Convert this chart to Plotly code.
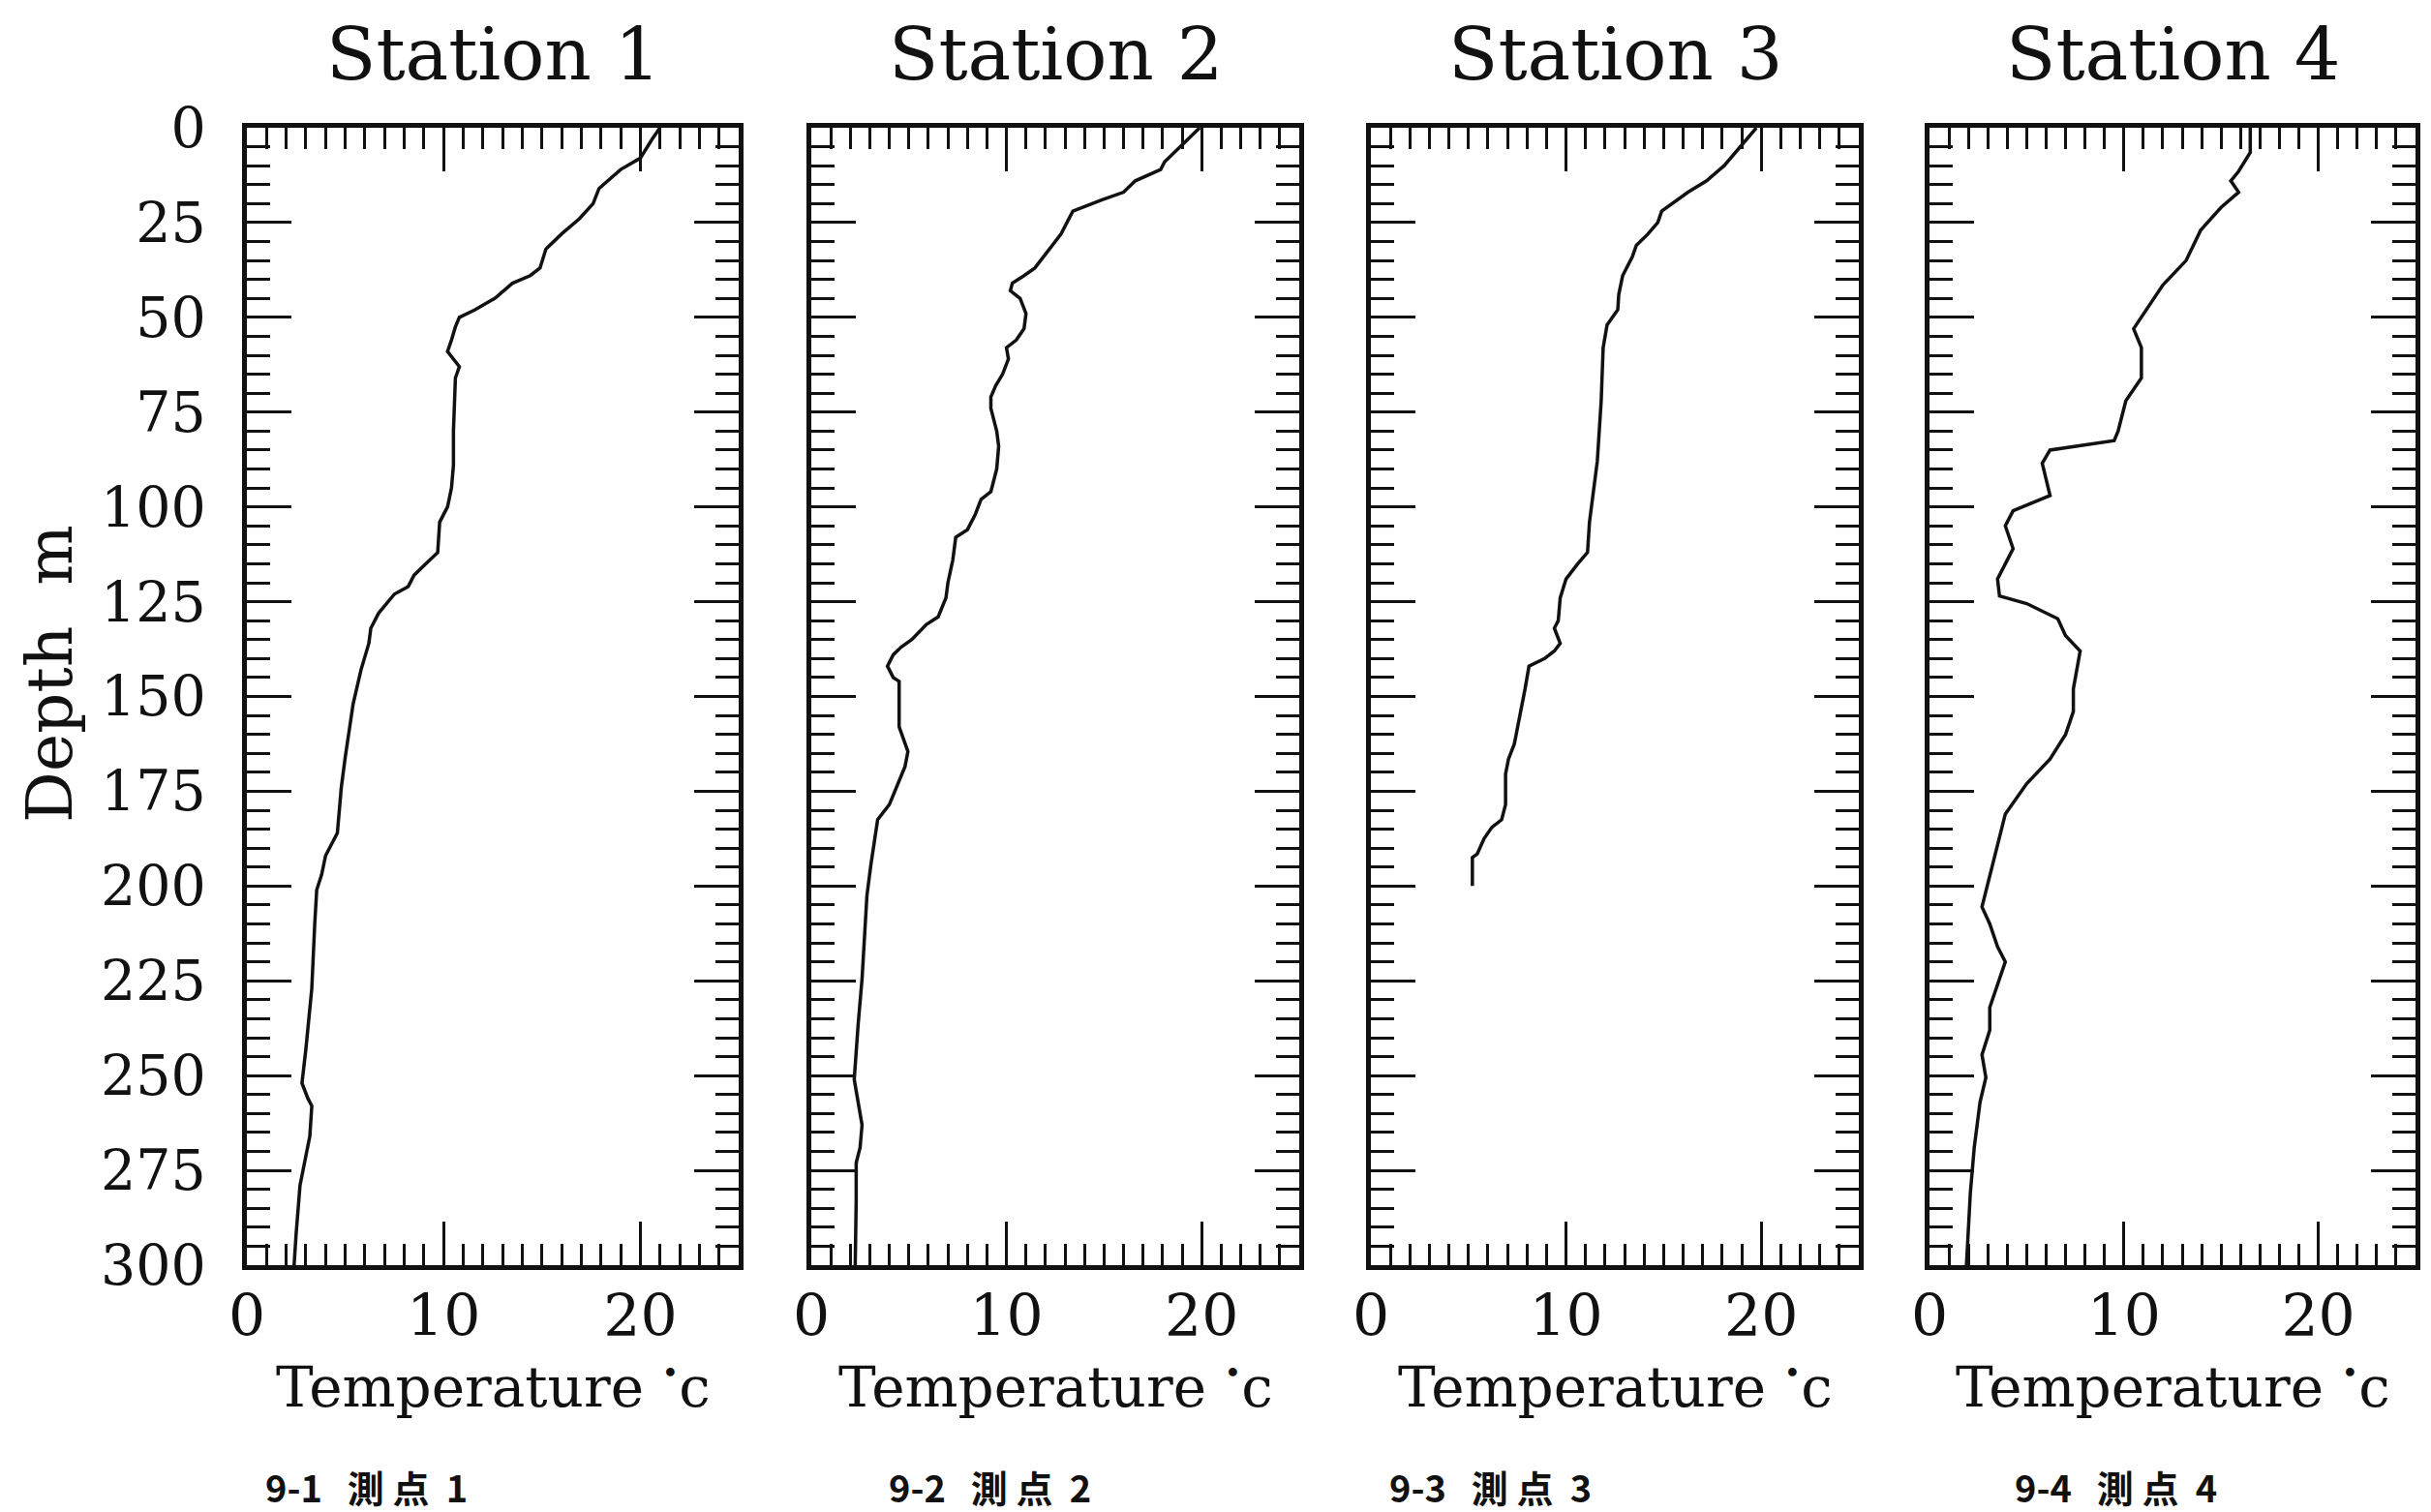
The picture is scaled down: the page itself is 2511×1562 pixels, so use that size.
import plotly.graph_objects as go

# Canvas size in pixels
W, H = 2511, 1562

# Panel titles and captions
station_names = ["Station 1", "Station 2", "Station 3", "Station 4"]
caption_parts = [("9-1", "測", "点", "1"), ("9-2", "測", "点", "2"),
                 ("9-3", "測", "点", "3"), ("9-4", "測", "点", "4")]

# Axis ticks
temp_ticks = [0, 10, 20]
depth_ticks = [0, 25, 50, 75, 100, 125, 150, 175, 200, 225, 250, 275, 300]

# Temperature profiles (depth in m, temperature in deg C)
depth_1 = [0, 3, 8, 11, 16, 20, 24, 28, 32, 37, 39, 41, 45, 48, 50, 52.5, 56, 59, 63, 66,
           80, 89, 95, 100, 104, 112, 116, 118, 121, 123, 128, 132, 136, 143, 152, 160,
           166, 174, 186, 189, 192, 197, 201, 210, 227, 243, 252, 256, 258, 266, 274,
           279, 292, 300]
temp_1 = [21.0, 20.6, 20.0, 19.0, 17.9, 17.6, 16.9, 16.0, 15.2, 14.9, 14.4, 13.5, 12.6,
          11.6, 10.8, 10.6, 10.4, 10.2, 10.8, 10.6, 10.5, 10.5, 10.4, 10.2, 9.8, 9.7, 8.9,
          8.5, 8.2, 7.5, 6.7, 6.3, 6.2, 5.8, 5.4, 5.15, 5.0, 4.8, 4.6, 4.3, 4.0, 3.8, 3.55,
          3.45, 3.3, 3.0, 2.8, 3.1, 3.3, 3.2, 2.9, 2.7, 2.5, 2.4]

depth_2 = [0, 4, 9, 11, 14, 17, 19, 22, 24, 28, 32, 37, 39, 41, 43, 45, 49, 53, 56, 58,
           61, 65, 68, 71, 74, 80, 84, 90, 96, 98, 102, 106, 108, 114, 120, 124, 129, 131,
           135, 137, 139, 142, 145, 146, 158, 161, 164.5, 168.5, 173.5, 178.5, 182.5,
           187.5, 194.5, 202.5, 212.5, 224.5, 236.5, 248.5, 251, 257, 263, 269, 273, 283,
           300]
temp_2 = [19.9, 19.1, 18.1, 17.9, 16.6, 16.0, 14.9, 13.4, 13.2, 12.8, 12.2, 11.45, 10.9,
          10.3, 10.2, 10.7, 11.0, 10.9, 10.5, 10.0, 10.1, 9.8, 9.45, 9.2, 9.2, 9.5, 9.6,
          9.5, 9.2, 8.7, 8.4, 8.0, 7.4, 7.25, 7.0, 6.9, 6.5, 5.9, 5.15, 4.6, 4.2, 3.9, 4.2,
          4.5, 4.5, 4.7, 4.95, 4.8, 4.4, 4.0, 3.4, 3.25, 3.05, 2.85, 2.75, 2.6, 2.4, 2.2,
          2.2, 2.4, 2.6, 2.5, 2.3, 2.3, 2.25]

depth_3 = [0, 4, 10, 14, 17, 22, 25, 28, 31, 34, 39, 44, 48, 52, 58, 72, 88, 96, 104, 112,
           115, 119, 124, 130, 132, 136, 138, 140, 142, 148, 156, 162.5, 166.5, 170.5,
           178.5, 182.5, 184.5, 187.5, 191.5, 192.5, 200]
temp_3 = [19.75, 19.1, 18.1, 17.2, 16.25, 14.9, 14.7, 14.2, 13.6, 13.4, 12.9, 12.7, 12.65,
          12.1, 11.9, 11.8, 11.6, 11.4, 11.2, 11.1, 10.6, 10.0, 9.7, 9.6, 9.4, 9.7, 9.4,
          8.9, 8.1, 7.9, 7.6, 7.35, 7.05, 6.9, 6.9, 6.7, 6.2, 5.8, 5.45, 5.2, 5.2]

depth_4 = [0, 6.5, 11.5, 14, 17, 21, 27, 35, 41.5, 47.5, 53, 58, 66, 72, 80, 82.5, 85,
           88.5, 97, 101, 105, 111, 115, 119, 123.5, 125.5, 129.5, 134, 138, 142, 148,
           154, 160, 166.5, 173, 181, 189, 197, 205.5, 210, 216, 220, 226, 232, 238,
           244.5, 250.5, 257, 269, 281, 300]
temp_4 = [16.5, 16.5, 15.9, 15.5, 15.9, 15.0, 13.95, 13.2, 12.0, 11.2, 10.5, 10.9, 10.9,
          10.1, 9.7, 9.5, 6.2, 5.8, 6.2, 4.3, 3.9, 4.3, 3.9, 3.5, 3.6, 5.0, 6.6, 7.0, 7.75,
          7.6, 7.4, 7.4, 7.0, 6.2, 5.0, 3.9, 3.5, 3.1, 2.7, 3.1, 3.5, 3.9, 3.5, 3.1, 3.1,
          2.7, 2.9, 2.6, 2.3, 2.1, 1.9]

depths = [depth_1, depth_2, depth_3, depth_4]
temps = [temp_1, temp_2, temp_3, temp_4]

# Frame edges of each panel in pixels
panel_left = [255, 838, 1416, 1993]
panel_right = [763, 1342, 1920, 2495]
panel_top, panel_bottom = 132, 1307
caption_left = [272, 916, 1433, 2079]

SERIF = "DejaVu Serif"
INK = "#111111"
NB = "\u00a0"

fig = go.Figure()
layout_axes = {}

for i in range(4):
    n = "" if i == 0 else str(i + 1)
    fig.add_trace(go.Scatter(
        x=temps[i], y=depths[i], mode="lines",
        line=dict(color=INK, width=3.5),
        xaxis="x" + n, yaxis="y" + n, showlegend=False,
        hoverinfo="skip",
    ))

    layout_axes["xaxis" + n] = dict(
        domain=[panel_left[i] / W, panel_right[i] / W],
        anchor="y" + n,
        range=[0, 25],
        tickvals=temp_ticks,
        ticks="inside", ticklen=45, tickwidth=3, tickcolor=INK,
        minor=dict(dtick=1, tick0=0, ticks="inside", ticklen=22, tickwidth=3,
                   tickcolor=INK, showgrid=False),
        showline=True, linewidth=4.5, linecolor=INK, mirror="ticks",
        showgrid=False, zeroline=False, automargin=False,
        tickfont=dict(family=SERIF, size=60, color=INK),
        ticklabelstandoff=-4,
    )
    layout_axes["yaxis" + n] = dict(
        domain=[1 - panel_bottom / H, 1 - panel_top / H],
        anchor="x" + n,
        range=[300, 0],
        tickvals=depth_ticks,
        ticks="inside", ticklen=46, tickwidth=3, tickcolor=INK,
        minor=dict(dtick=5, tick0=0, ticks="inside", ticklen=24, tickwidth=3,
                   tickcolor=INK, showgrid=False),
        showline=True, linewidth=4.5, linecolor=INK, mirror="ticks",
        showgrid=False, zeroline=False, automargin=False,
        showticklabels=(i == 0),
        tickfont=dict(family=SERIF, size=57, color=INK),
        ticklabelstandoff=26,
    )

annotations = []
for i in range(4):
    cx = (panel_left[i] + panel_right[i]) / 2
    annotations.append(dict(
        text=station_names[i], x=cx / W, y=1 - 56 / H, xref="paper", yref="paper",
        xanchor="center", yanchor="middle", showarrow=False,
        font=dict(family=SERIF, size=75, color=INK),
    ))
    # axis title sits just under the tick labels
    annotations.append(dict(
        text="Temperature <sup><span style='font-size:30px'>•</span></sup>c",
        x=cx / W, y=1 - 1469 / H,
        xref="paper", yref="paper",
        xanchor="center", yanchor="bottom", showarrow=False,
        font=dict(family=SERIF, size=58, color=INK),
    ))
    num, ch1, ch2, idx = caption_parts[i]
    caption = num + NB * 3 + ch1 + NB + ch2 + NB * 2 + idx
    annotations.append(dict(
        text=caption, x=caption_left[i] / W, y=1 - 1535 / H,
        xref="paper", yref="paper", xanchor="left", yanchor="middle", showarrow=False,
        font=dict(family="Noto Sans CJK JP", size=38, color=INK, weight="bold"),
    ))

annotations.append(dict(
    text="Depth" + NB * 2 + "m", x=52 / W, y=1 - 696 / H, xref="paper", yref="paper",
    xanchor="center", yanchor="middle", showarrow=False, textangle=-90,
    font=dict(family=SERIF, size=66, color=INK),
))

fig.update_layout(
    template="none",
    width=W, height=H,
    margin=dict(l=0, r=0, t=0, b=0, pad=0),
    paper_bgcolor="white", plot_bgcolor="white",
    annotations=annotations,
    **layout_axes,
)

fig.write_html("out.html", config={"displayModeBar": False})
